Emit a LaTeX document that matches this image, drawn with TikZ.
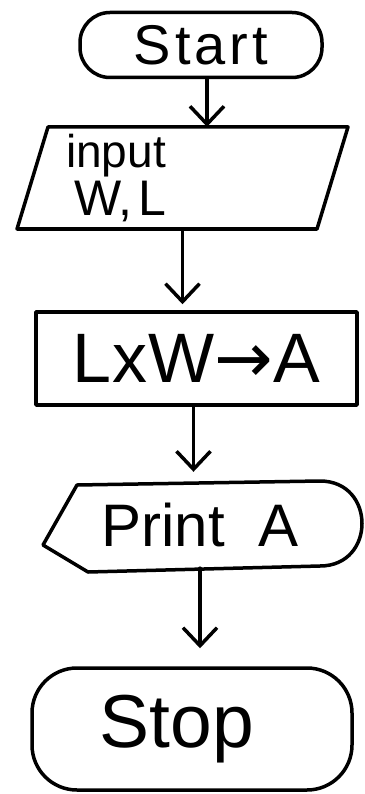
\documentclass[tikz,border=0pt]{standalone}
\usepackage{fontspec}
\setmainfont{Liberation Sans}
\newfontfamily\symbolfont{DejaVu Sans}
\usetikzlibrary{arrows.meta}

\begin{document}
\begin{tikzpicture}[x=1pt,y=-1pt,line join=round,line cap=round,
  box/.style={draw,line width=3.5pt,inner sep=0pt},
  outline/.style={line width=3.5pt},
  flow/.style={line width=3.5pt,-{Straight Barb[length=18pt,width=34pt,line width=3.5pt]}},
  textline/.style={inner sep=0pt,anchor=base west}]
\useasboundingbox (0,0) rectangle (364,794);

% terminal: start
\node[box,rounded corners=30pt,minimum width=242pt,minimum height=65pt]
  (start) at (201,45)
  {\fontsize{56}{56}\selectfont S\kern4pt t\kern4pt a\kern4pt r\kern4pt t};

% input (parallelogram)
\draw[outline] (48,127) -- (348,127) -- (317,229) -- (17,229) -- cycle;
\node[inner sep=0pt,minimum width=300pt,minimum height=102pt]
  (input) at (182.5,178) {};
\node[textline] (inputword) at (66,168) {\fontsize{46}{46}\selectfont input};
\node[textline] (inputvars) at (74,216) {\fontsize{50}{50}\selectfont W,\kern6pt L};

% process
\node[box,minimum width=321pt,minimum height=93pt]
  (process) at (196.5,358.5)
  {\fontsize{70}{70}\selectfont L\kern1pt x\kern1pt W{\symbolfont →}A};

% display (print)
\draw[outline] (43,545) -- (77,485) -- (320,481)
  .. controls (376,481) and (376,566) .. (320,566) -- (88,572) -- cycle;
\node[inner sep=0pt,minimum width=300pt,minimum height=86pt]
  (print) at (200,525) {\fontsize{60}{60}\selectfont Print\ \ A};

% terminal: stop
\node[box,rounded corners=45pt,minimum width=320pt,minimum height=122pt]
  (stop) at (192,729) {\fontsize{75}{75}\selectfont Stop\rule{30pt}{0pt}};

% connectors
\coordinate (a1) at ([xshift=6pt]start.south);
\draw[flow] (a1) -- (a1 |- input.north);
\draw[flow,shorten >=6pt] (input.south) -- (input.south |- process.north);
\coordinate (a3) at ([xshift=-3pt]process.south);
\draw[flow,shorten >=10pt] (a3) -- (a3 |- print.north);
\draw[flow,shorten >=18pt] (print.south) -- (print.south |- stop.north);
\end{tikzpicture}
\end{document}
